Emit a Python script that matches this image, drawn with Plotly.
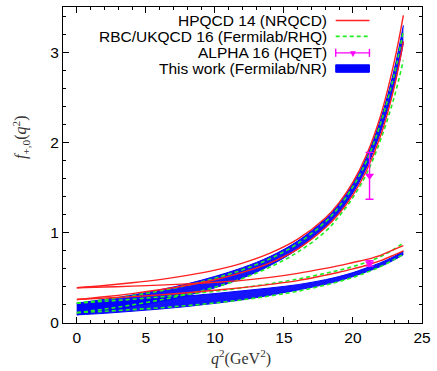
import plotly.graph_objects as go

# ---------------- data ----------------
q2 = [0, 2, 4, 6, 8, 10, 12, 14, 16, 18, 19, 20, 21, 22, 23, 23.65]

# This work (Fermilab/NR): central values and half-widths
fp_work_center = [0.155, 0.197, 0.244, 0.302, 0.369, 0.453, 0.555, 0.687, 0.863, 1.106, 1.273, 1.493, 1.784, 2.185, 2.725, 3.197]
fp_work_err = [0.065, 0.065, 0.065, 0.065, 0.065, 0.063, 0.058, 0.050, 0.045, 0.045, 0.047, 0.050, 0.058, 0.070, 0.090, 0.100]
f0_work_center = [0.155, 0.172, 0.192, 0.214, 0.241, 0.272, 0.307, 0.348, 0.395, 0.454, 0.491, 0.536, 0.590, 0.647, 0.720, 0.777]
f0_work_err = [0.065, 0.065, 0.062, 0.060, 0.058, 0.054, 0.050, 0.040, 0.030, 0.026, 0.024, 0.022, 0.022, 0.021, 0.020, 0.020]

# HPQCD 14 (NRQCD): band edges
fp_hpqcd_hi = [0.390, 0.415, 0.445, 0.481, 0.527, 0.585, 0.664, 0.774, 0.929, 1.163, 1.333, 1.560, 1.869, 2.296, 2.900, 3.408]
fp_hpqcd_lo = [0.260, 0.290, 0.326, 0.368, 0.418, 0.479, 0.560, 0.666, 0.819, 1.054, 1.212, 1.418, 1.695, 2.073, 2.619, 3.119]
f0_hpqcd_hi = [0.390, 0.398, 0.408, 0.420, 0.433, 0.450, 0.472, 0.505, 0.550, 0.605, 0.635, 0.670, 0.705, 0.750, 0.815, 0.856]
f0_hpqcd_lo = [0.260, 0.275, 0.292, 0.312, 0.335, 0.362, 0.392, 0.428, 0.470, 0.530, 0.562, 0.600, 0.640, 0.690, 0.755, 0.800]

# RBC/UKQCD 16 (Fermilab/RHQ): band edges
fp_rbc_hi = [0.220, 0.258, 0.302, 0.355, 0.418, 0.495, 0.590, 0.713, 0.880, 1.120, 1.290, 1.510, 1.800, 2.210, 2.760, 3.240]
fp_rbc_lo = [0.115, 0.154, 0.200, 0.254, 0.319, 0.397, 0.494, 0.620, 0.785, 1.013, 1.182, 1.391, 1.657, 2.029, 2.508, 2.908]
f0_rbc_hi = [0.220, 0.240, 0.262, 0.288, 0.318, 0.352, 0.390, 0.435, 0.487, 0.550, 0.585, 0.625, 0.675, 0.735, 0.820, 0.890]
f0_rbc_lo = [0.115, 0.130, 0.148, 0.168, 0.193, 0.222, 0.257, 0.300, 0.352, 0.420, 0.460, 0.505, 0.560, 0.625, 0.705, 0.760]

# ALPHA 16 (HQET)
alpha_q2 = [21.2, 21.2]
alpha_f = [1.63, 0.66]
alpha_err = [0.26, 0.03]

legend_labels = ["HPQCD 14 (NRQCD)", "RBC/UKQCD 16 (Fermilab/RHQ)",
                 "ALPHA 16 (HQET)", "This work (Fermilab/NR)"]

RED = "#ff2020"
GREEN = "#22ee22"
BLUE = "#0000ff"
MAG = "#ff00ff"

fig = go.Figure()

# blue bands
for c, e in [(fp_work_center, fp_work_err), (f0_work_center, f0_work_err)]:
    lo = [a - b for a, b in zip(c, e)]
    hi = [a + b for a, b in zip(c, e)]
    fig.add_trace(go.Scatter(x=q2, y=lo, mode="lines", line=dict(color=BLUE, width=1, shape="spline"),
                             showlegend=False, hoverinfo="skip"))
    fig.add_trace(go.Scatter(x=q2, y=hi, mode="lines", line=dict(color=BLUE, width=1, shape="spline"),
                             fill="tonexty", fillcolor="rgba(0,0,255,0.92)", showlegend=False, hoverinfo="skip"))

# green dashed
for arr in [fp_rbc_hi, fp_rbc_lo, f0_rbc_hi, f0_rbc_lo]:
    fig.add_trace(go.Scatter(x=q2, y=arr, mode="lines",
                             line=dict(color=GREEN, width=1.6, dash="4px,3px", shape="spline"),
                             showlegend=False))

# red solid
for arr in [fp_hpqcd_hi, fp_hpqcd_lo, f0_hpqcd_hi, f0_hpqcd_lo]:
    fig.add_trace(go.Scatter(x=q2, y=arr, mode="lines",
                             line=dict(color=RED, width=1.4, shape="spline"),
                             showlegend=False))

# ALPHA points
fig.add_trace(go.Scatter(x=alpha_q2, y=alpha_f, mode="markers",
                         marker=dict(symbol="triangle-down", size=8, color=MAG),
                         error_y=dict(type="data", array=alpha_err, color=MAG, thickness=1.4, width=4),
                         showlegend=False))

# ---------------- layout ----------------
L, R, T, B = 63, 12, 6, 48
W, H = 437, 371
pw, ph = W - L - R, H - T - B


def px2paper(px, py):
    return (px - L) / pw, (H - B - py) / ph


font_sans = "Liberation Sans, Arial, sans-serif"
font_serif = "Liberation Serif, DejaVu Serif, serif"

annotations = []
shapes = []
rows_y = [19.5, 35.5, 52, 68]
for lab, yy in zip(legend_labels, rows_y):
    xp, yp = px2paper(331, yy)
    annotations.append(dict(x=xp, y=yp, xref="paper", yref="paper", text=lab, showarrow=False,
                            xanchor="right", yanchor="middle", font=dict(family=font_sans, size=15.5, color="black")))

x0, _ = px2paper(338, 0)
x1, _ = px2paper(372, 0)
xm, _ = px2paper(355, 0)
_, y_r = px2paper(0, rows_y[0])
_, y_g = px2paper(0, rows_y[1])
_, y_m = px2paper(0, rows_y[2])
_, y_mt = px2paper(0, rows_y[2] - 4)
_, y_mb = px2paper(0, rows_y[2] + 4)
_, y_bt = px2paper(0, rows_y[3] - 4)
_, y_bb = px2paper(0, rows_y[3] + 3.5)
shapes.append(dict(type="line", xref="paper", yref="paper", x0=x0, x1=x1, y0=y_r, y1=y_r,
                   line=dict(color=RED, width=1.4)))
shapes.append(dict(type="line", xref="paper", yref="paper", x0=x0, x1=x1, y0=y_g, y1=y_g,
                   line=dict(color=GREEN, width=1.6, dash="4px,3px")))
shapes.append(dict(type="line", xref="paper", yref="paper", x0=x0, x1=x1, y0=y_m, y1=y_m,
                   line=dict(color=MAG, width=1.4)))
for xx in (x0, x1):
    shapes.append(dict(type="line", xref="paper", yref="paper", x0=xx, x1=xx, y0=y_mb, y1=y_mt,
                       line=dict(color=MAG, width=1.4)))
shapes.append(dict(type="rect", xref="paper", yref="paper", x0=x0, x1=x1, y0=y_bb, y1=y_bt,
                   fillcolor=BLUE, line=dict(color=BLUE, width=1)))
annotations.append(dict(x=xm, y=y_m, xref="paper", yref="paper", text="▼", showarrow=False,
                        xanchor="center", yanchor="middle", font=dict(size=10, color=MAG)))

# axis titles
xt, yt = px2paper(20, 137)
annotations.append(dict(x=xt, y=yt, xref="paper", yref="paper",
                        text="<i>f</i><sub>+,0</sub>(<i>q</i><sup>2</sup>)", showarrow=False,
                        textangle=-90, xanchor="center", yanchor="middle",
                        font=dict(family=font_serif, size=16, color="#333333")))
xt, yt = px2paper(242, 358)
annotations.append(dict(x=xt, y=yt, xref="paper", yref="paper",
                        text="<i>q</i><sup>2</sup>(GeV<sup>2</sup>)", showarrow=False,
                        xanchor="center", yanchor="middle",
                        font=dict(family=font_serif, size=16, color="#333333")))

axis_common = dict(showline=True, linecolor="black", linewidth=1.3, mirror="allticks",
                   ticks="inside", ticklen=6, tickcolor="black", tickwidth=1,
                   showgrid=False, zeroline=False,
                   tickfont=dict(family=font_sans, size=15.5, color="black"))

fig.update_layout(
    width=W, height=H,
    margin=dict(l=L, r=R, t=T, b=B),
    paper_bgcolor="white", plot_bgcolor="white",
    showlegend=False,
    xaxis=dict(range=[-1, 25], tickvals=[0, 5, 10, 15, 20, 25],
               minor=dict(ticks="inside", dtick=1, ticklen=3, tickcolor="black", showgrid=False),
               **axis_common),
    yaxis=dict(range=[0, 3.5], tickvals=[0, 1, 2, 3],
               minor=dict(ticks="inside", dtick=0.2, ticklen=3, tickcolor="black", showgrid=False),
               **axis_common),
    annotations=annotations,
    shapes=shapes,
)

fig.write_html("out.html")
